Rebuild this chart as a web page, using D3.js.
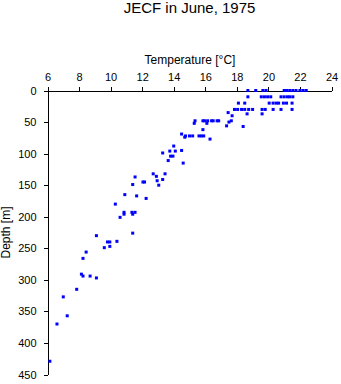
<!DOCTYPE html>
<html>
<head>
<meta charset="utf-8">
<script src="https://cdn.jsdelivr.net/npm/d3@7"></script>
<style>
  html, body { margin: 0; padding: 0; background: #fff; }
  svg { display: block; font-family: "Liberation Sans", Arial, Helvetica, sans-serif; }
</style>
</head>
<body>
<svg id="chart" width="341" height="384"></svg>
<script>
// Observations: depth [m] and temperature [°C]
const depths = [
  0,0,0,0,0,0,0,0,0,0,0,0,
  10,10,10,10,10,10,10,10,10,10,
  20,20,20,20,20,20,20,20,20,
  30,30,30,30,30,30,30,30,30,30,30,
  35,37,37,40,
  48,48,48,48,48,48,48,48,48,
  50,52,52,56,57,62,69,
  72,72,72,72,72,72,
  74,77,88,95,96,96,99,104,104,111,115,
  132,132,136,137,141,143,145,145,149,150,
  165,167,171,180,193,193,193,196,196,201,
  226,230,239,240,240,247,249,256,266,
  291,294,294,297,315,327,357,370,429
];
const temperatures = [
  18.7,19.2,19.65,19.85,21.0,21.15,21.35,21.55,21.75,22.0,22.2,22.4,
  18.7,19.55,19.75,19.95,20.15,20.8,21.0,21.2,21.35,21.55,
  18.1,18.5,20.05,20.3,20.5,20.65,20.95,21.15,21.5,
  17.85,18.05,18.3,18.5,18.75,19.0,19.6,19.8,20.3,20.8,21.5,
  17.45,18.65,19.6,17.7,
  17.65,16.85,16.75,16.5,16.4,16.15,15.95,15.85,15.35,
  17.5,15.3,16.1,17.35,18.4,15.85,14.5,
  14.75,15.0,15.2,15.6,15.75,15.9,
  14.7,16.3,14.0,14.5,13.75,14.1,13.3,13.8,13.95,13.65,14.6,
  12.7,13.45,12.9,11.55,13.3,12.95,12.05,12.15,11.4,13.05,
  10.9,11.65,12.25,10.3,10.85,11.35,11.55,10.85,11.4,10.6,
  11.4,9.1,10.4,9.8,9.95,9.95,9.6,8.45,8.25,
  8.15,8.25,8.7,9.1,7.85,7.0,7.25,6.6,6.15
];
const xTicks = [6, 8, 10, 12, 14, 16, 18, 20, 22, 24];
const yTicks = [0, 50, 100, 150, 200, 250, 300, 350, 400, 450];
const titleText = "JECF in June, 1975";
const xLabel = "Temperature [\u00B0C]";
const yLabel = "Depth [m]";

const svg = d3.select("#chart");
const x = d3.scaleLinear().domain([6, 24]).range([47.5, 331.5]);
const y = d3.scaleLinear().domain([0, 450]).range([90.5, 374.5]);

// Title
svg.append("text")
  .attr("x", 189.5).attr("y", 13)
  .attr("text-anchor", "middle")
  .attr("font-size", 15)
  .text(titleText);

// X axis (top)
const gx = svg.append("g")
  .attr("transform", "translate(0," + y(0) + ")")
  .call(d3.axisTop(x).tickValues(xTicks).tickSize(4).tickSizeOuter(0).tickPadding(6).tickFormat(d3.format("d")));
// Y axis (left)
const gy = svg.append("g")
  .attr("transform", "translate(" + x(6) + ",0)")
  .call(d3.axisLeft(y).tickValues(yTicks).tickSize(4).tickSizeOuter(0).tickPadding(7).tickFormat(d3.format("d")));

[gx, gy].forEach(g => {
  g.selectAll("path, line").attr("stroke", "#000").attr("shape-rendering", "crispEdges");
  g.selectAll("text").attr("font-size", 11).attr("fill", "#000")
    .attr("font-family", "\"Liberation Sans\", Arial, Helvetica, sans-serif");
});

// Axis titles
svg.append("text")
  .attr("x", 190).attr("y", 64)
  .attr("text-anchor", "middle")
  .attr("font-size", 12)
  .text(xLabel);
svg.append("text")
  .attr("transform", "translate(10," + ((y(0) + y(450)) / 2) + ") rotate(-90)")
  .attr("text-anchor", "middle")
  .attr("font-size", 12)
  .text(yLabel);

// Points
const pts = depths.map((d, i) => ({ depth: d, temp: temperatures[i] }));
svg.append("g").selectAll("rect")
  .data(pts)
  .join("rect")
  .attr("x", d => x(d.temp) - 1.5)
  .attr("y", d => y(d.depth) - 1.5)
  .attr("width", 3)
  .attr("height", 3)
  .attr("fill", "#0000ff");
</script>
</body>
</html>
